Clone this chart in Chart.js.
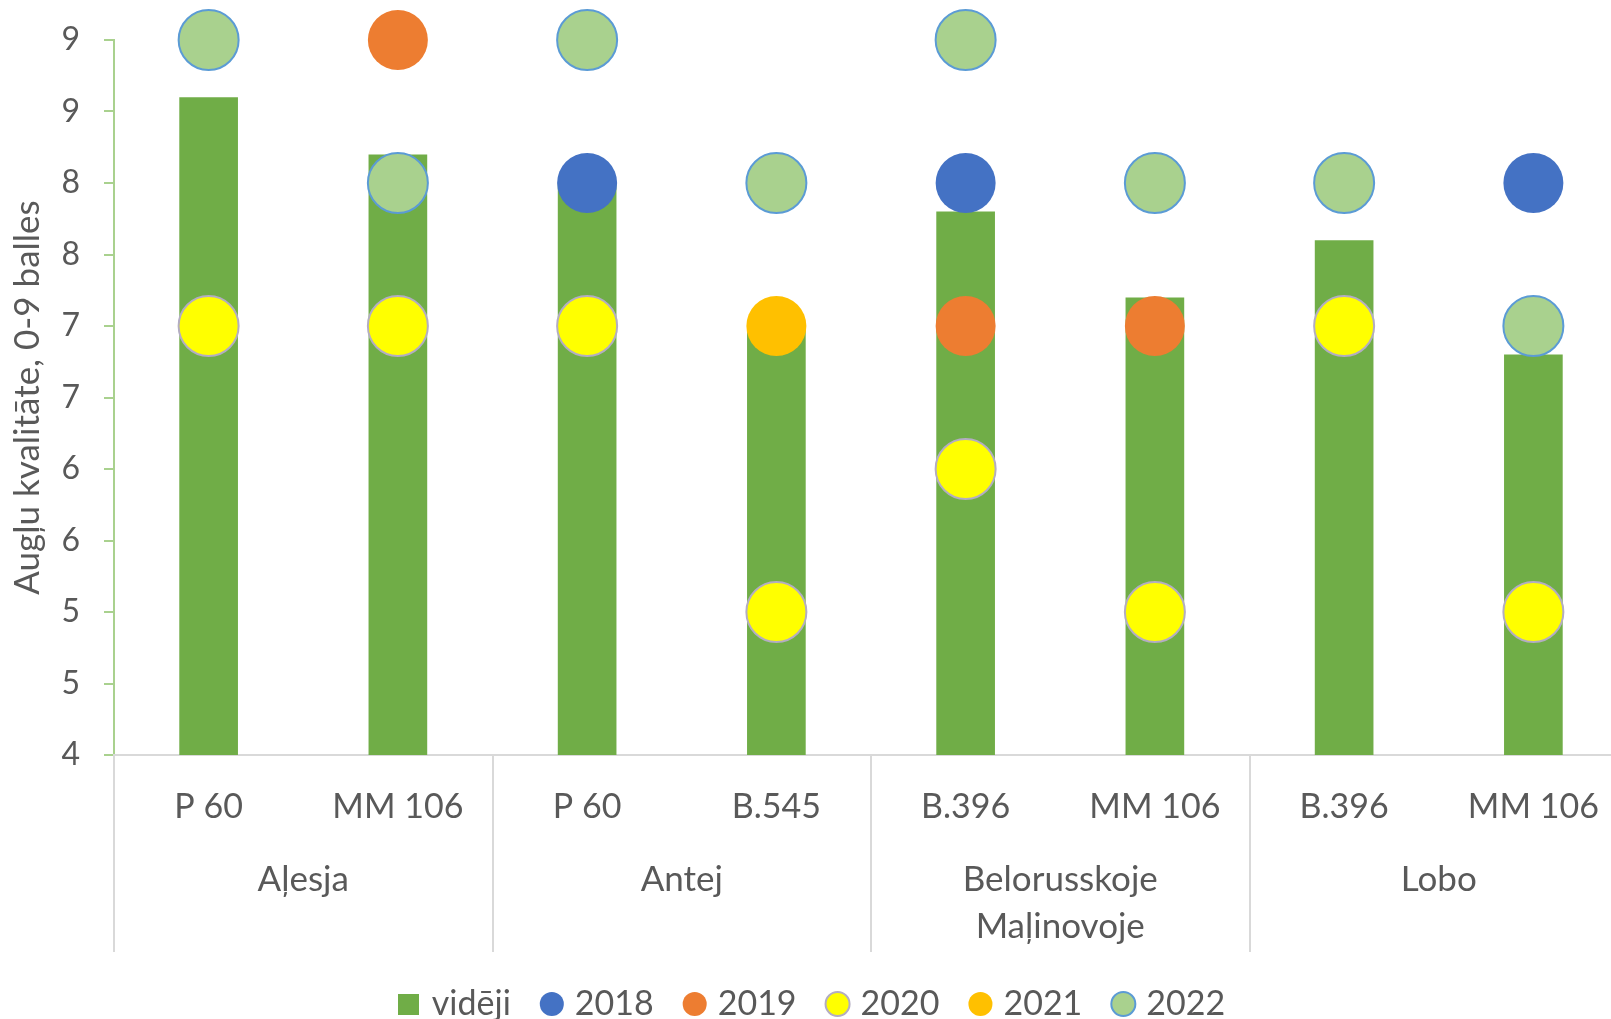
<!DOCTYPE html>
<html><head><meta charset="utf-8">
<script src="https://cdn.jsdelivr.net/npm/chart.js@4.4.1/dist/chart.umd.min.js"></script>
<style>
html,body{margin:0;padding:0;overflow:hidden;background:#fff;width:1611px;height:1019px}
#wrap{position:absolute;left:0;top:0;width:1636px;height:1031px}
</style>
</head><body>
<div id="wrap"><canvas id="c" width="1636" height="1031"></canvas></div>
<script>
// ---- data ----
const groups = ['Aļesja', 'Antej', ['Belorusskoje', 'Maļinovoje'], 'Lobo'];
const rootstocks = ['P 60', 'MM 106', 'P 60', 'B.545', 'B.396', 'MM 106', 'B.396', 'MM 106'];
const avgValues = [8.6, 8.2, 8.0, 7.0, 7.8, 7.2, 7.6, 6.8];
const y2018 = [null, null, 8, null, 8, null, null, 8];
const y2019 = [null, 9, null, null, 7, 7, null, null];
const y2020 = [7, 7, 7, 5, 6, 5, 7, 5];
const y2021 = [null, null, null, 7, null, null, null, null];
const y2022 = [9, 8, 9, 8, 9, 8, 8, 7];
const yTickLabels = ['4', '5', '5', '6', '6', '7', '7', '8', '8', '9', '9'];
const seriesNames = ['vidēji', '2018', '2019', '2020', '2021', '2022'];

// ---- styles ----
const TEXT = '#595959';
const FONT = 'Lato';
Chart.defaults.font.family = FONT;
Chart.defaults.color = TEXT;

function pointSet(label, data, fill, border, bw, order) {
  return {
    type: 'line', label, data, showLine: false, order, clip: false,
    pointRadius: 30, pointHoverRadius: 30,
    pointBackgroundColor: fill, pointBorderColor: border, pointBorderWidth: bw,
    backgroundColor: fill, borderColor: border, borderWidth: bw
  };
}

const sq = document.createElement('canvas');
sq.width = 21; sq.height = 21;
const sctx = sq.getContext('2d');
sctx.fillStyle = '#70AD47'; sctx.fillRect(0, 0, 21, 21);

const chart = new Chart(document.getElementById('c'), {
  type: 'bar',
  data: {
    labels: rootstocks,
    datasets: [
      { type: 'bar', label: seriesNames[0], data: avgValues, backgroundColor: '#70AD47',
        borderWidth: 0, order: 10, categoryPercentage: 1, barPercentage: 0.31 },
      pointSet(seriesNames[1], y2018, '#4472C4', '#4472C4', 0, 5),
      pointSet(seriesNames[2], y2019, '#ED7D31', '#ED7D31', 0, 4),
      pointSet(seriesNames[3], y2020, '#FFFF00', '#B3ADC2', 2, 3),
      pointSet(seriesNames[4], y2021, '#FFC000', '#FFC000', 0, 2),
      pointSet(seriesNames[5], y2022, '#A9D18E', '#5B9BD5', 2, 1)
    ]
  },
  options: {
    responsive: false,
    devicePixelRatio: 1,
    animation: false,
    layout: { autoPadding: false, padding: { top: 40, right: 8, left: 0, bottom: 0 } },
    plugins: {
      tooltip: { enabled: false },
      legend: {
        position: 'bottom',
        labels: {
          usePointStyle: true,
          boxHeight: 17, boxWidth: 12,
          padding: 35,
          color: TEXT,
          font: { family: FONT, size: 34 },
          sort: (a, b) => a.datasetIndex - b.datasetIndex,
          generateLabels: (ch) => {
            const items = Chart.defaults.plugins.legend.labels.generateLabels(ch);
            items.forEach(it => { if (it.datasetIndex === 0) { it.pointStyle = sq; it.lineWidth = 0; } });
            return items;
          }
        }
      }
    },
    scales: {
      y: {
        min: 4, max: 9,
        afterFit: s => { s.width = 114; },
        ticks: { stepSize: 0.5, padding: 24, color: TEXT, font: { family: FONT, size: 32, lineHeight: 0.9 },
                 callback: (v, i) => yTickLabels[i] },
        grid: { drawOnChartArea: false, drawTicks: true, tickLength: 10, color: '#A9D18E', lineWidth: 2 },
        border: { display: true, color: '#A9D18E', width: 2 },
        title: { display: true, text: 'Augļu kvalitāte, 0-9 balles', color: TEXT,
                 font: { family: FONT, size: 35 }, padding: { top: 7, bottom: 0 } }
      },
      x: {
        position: 'bottom',
        offset: true,
        afterFit: s => { s.height = 100; },
        ticks: { padding: -165, color: TEXT, font: { family: FONT, size: 34 }, maxRotation: 0, autoSkip: false },
        grid: {
          offset: true, drawOnChartArea: false, drawTicks: true, tickLength: 197, lineWidth: 2,
          color: ctx => (ctx.index % 2 === 0 ? '#D9D9D9' : 'rgba(0,0,0,0)'),
          tickColor: ctx => (ctx.index % 2 === 0 ? '#D9D9D9' : 'rgba(0,0,0,0)')
        },
        border: { display: true, color: '#D9D9D9', width: 2 }
      },
      x2: {
        type: 'category',
        position: 'bottom',
        labels: groups,
        offset: true,
        afterFit: s => { s.height = 97; },
        ticks: { padding: 1.5, color: TEXT, font: { family: FONT, size: 35, lineHeight: 1.343 }, maxRotation: 0, autoSkip: false },
        grid: { display: false, drawTicks: false },
        border: { display: false }
      }
    }
  }
});
</script>
</body></html>
